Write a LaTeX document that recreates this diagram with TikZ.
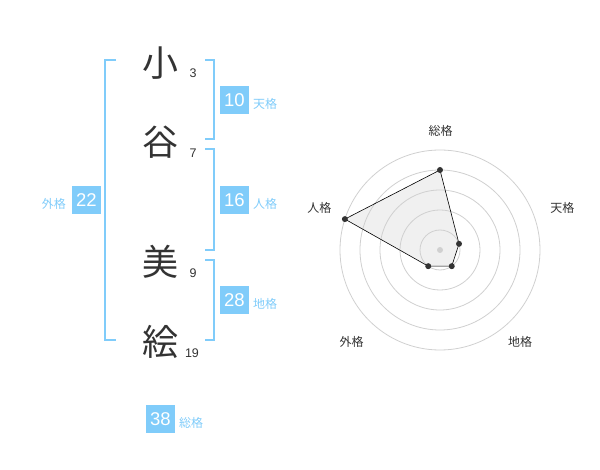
\documentclass[tikz,border=0pt]{standalone}
\usepackage{fontspec}
\setmainfont{Liberation Sans}
\newfontfamily\jp{Noto Sans CJK JP}
\usepackage{xcolor}
\usetikzlibrary{calc}
\definecolor{skyblue}{HTML}{80CCFA}
\definecolor{ink}{HTML}{333333}
\definecolor{ring}{HTML}{D0D0D0}

\begin{document}
\begin{tikzpicture}[x=1pt,y=-1pt,
		kanji/.style={font=\jp\fontsize{36}{36}\selectfont, text=ink, inner sep=0},
		strokes/.style={font=\fontsize{12.5}{12.5}\selectfont, text=ink, inner sep=0},
		badge/.style={fill=skyblue, text=white, minimum width=29pt, minimum height=28pt, inner sep=0, font=\fontsize{18.5}{18.5}\selectfont},
		kaku/.style={text=skyblue, font=\jp\fontsize{12}{12}\selectfont, inner sep=0},
		bracket/.style={draw=skyblue, line width=2pt},
		axis/.style={text=ink, font=\jp\fontsize{12}{12}\selectfont, inner sep=0},
		dot/.style={fill=ink, circle, inner sep=0, minimum size=6pt}]
		\useasboundingbox (0,0) rectangle (600,470);
		% name
		\node[kanji] (c1) at (160,63) {小};
		\node[kanji] (c2) at (160,142) {谷};
		\node[kanji] (c3) at (160,262) {美};
		\node[kanji] (c4) at (160,342) {絵};
		\node[strokes] (n1) at (193,73) {3};
		\node[strokes] (n2) at (193,153) {7};
		\node[strokes] (n3) at (193,273) {9};
		\node[strokes] (n4) at (192,353) {19};
		% brackets
		\draw[bracket] (116,60) -- (105,60) -- (105,340) -- (116,340);
		\draw[bracket] (205,60) -- (214,60) -- (214,139) -- (205,139);
		\draw[bracket] (205,149) -- (214,149) -- (214,250) -- (205,250);
		\draw[bracket] (205,260) -- (214,260) -- (214,340) -- (205,340);
		% scores
		\node[badge] (ten) at (234.5,100) {10};
		\node[kaku, anchor=west] at (253,104) {天格};
		\node[badge] (jin) at (234.5,200) {16};
		\node[kaku, anchor=west] at (253,204) {人格};
		\node[badge] (chi) at (234.5,300) {28};
		\node[kaku, anchor=west] at (253,304) {地格};
		\node[badge] (gai) at (86.5,200) {22};
		\node[kaku, anchor=east] at (66,204) {外格};
		\node[badge] (sou) at (160.5,419) {38};
		\node[kaku, anchor=west] at (179,423) {総格};
		% radar
		\begin{scope}[shift={(440,250)}, yscale=-1]
			\coordinate (vsou) at (90:80);
			\coordinate (vten) at (18:20);
			\coordinate (vchi) at (-54:20);
			\coordinate (vgai) at (-126:20);
			\coordinate (vjin) at (162:100);
			\fill[black!6] (vsou) -- (vten) -- (vchi) -- (vgai) -- (vjin) -- cycle;
			\foreach \r in {20,40,...,100}
			\draw[ring, line width=0.8pt] (0,0) circle (\r);
			\fill[ring] (0,0) circle (3);
			\draw[line width=0.6pt] (vsou) -- (vten) -- (vchi) -- (vgai) -- (vjin) -- cycle;
			\foreach \v in {vsou,vten,vchi,vgai,vjin}
			\node[dot] at (\v) {};
			\node[axis] (lsou) at (0.7,119.3) {総格};
			\node[axis] (lten) at (122.3,41.7) {天格};
			\node[axis] (ljin) at (-120.7,41.7) {人格};
			\node[axis] (lgai) at (-88.3,-91.7) {外格};
			\node[axis] (lchi) at (80,-91.7) {地格};
		\end{scope}
\end{tikzpicture}
\end{document}
